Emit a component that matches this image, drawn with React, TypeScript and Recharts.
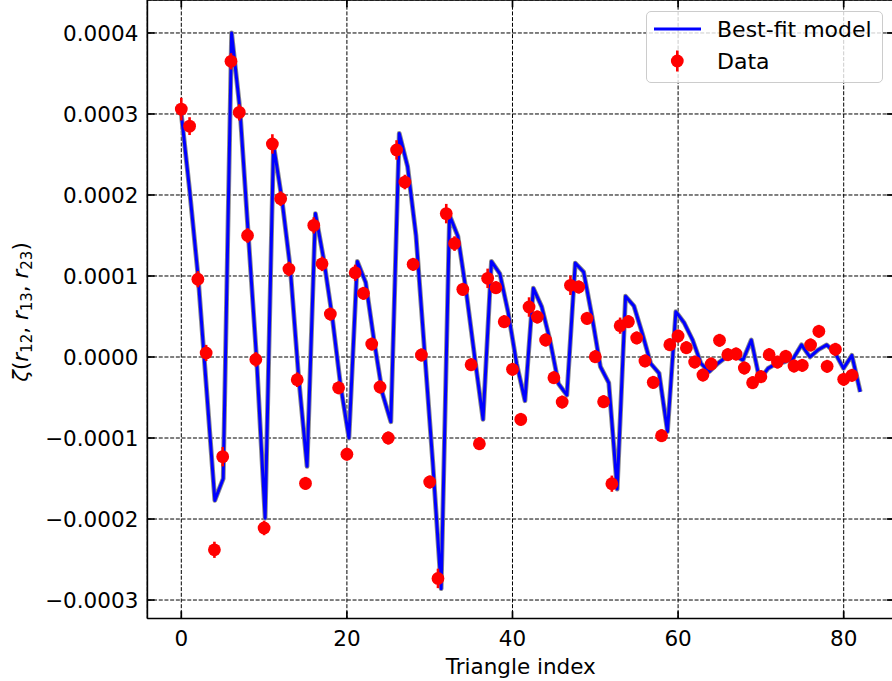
import React from 'react';
import {
  ComposedChart,
  Line,
  Scatter,
  XAxis,
  YAxis,
  CartesianGrid,
  ErrorBar,
  ReferenceLine,
  Label,
} from 'recharts';

// ---------------- data ----------------
// Measured correlation (data points, index 0..81)
const dataZeta: number[] = [
  3.06e-4, 2.85e-4, 0.96e-4, 0.05e-4, -2.38e-4, -1.23e-4, 3.65e-4, 3.02e-4, 1.5e-4, -0.03e-4,
  -2.11e-4, 2.63e-4, 1.955e-4, 1.086e-4, -0.28e-4, -1.56e-4, 1.625e-4, 1.15e-4, 0.53e-4, -0.38e-4,
  -1.2e-4, 1.04e-4, 0.786e-4, 0.16e-4, -0.37e-4, -1.0e-4, 2.556e-4, 2.16e-4, 1.144e-4, 0.025e-4,
  -1.543e-4, -2.733e-4, 1.77e-4, 1.4e-4, 0.835e-4, -0.095e-4, -1.07e-4, 0.971e-4, 0.856e-4, 0.436e-4,
  -0.152e-4, -0.77e-4, 0.617e-4, 0.494e-4, 0.21e-4, -0.255e-4, -0.556e-4, 0.885e-4, 0.864e-4, 0.477e-4,
  0.004e-4, -0.552e-4, -1.564e-4, 0.387e-4, 0.436e-4, 0.235e-4, -0.049e-4, -0.313e-4, -0.971e-4, 0.152e-4,
  0.259e-4, 0.115e-4, -0.062e-4, -0.222e-4, -0.086e-4, 0.206e-4, 0.029e-4, 0.037e-4, -0.136e-4, -0.317e-4,
  -0.243e-4, 0.029e-4, -0.062e-4, 0.008e-4, -0.111e-4, -0.103e-4, 0.148e-4, 0.317e-4, -0.115e-4, 0.095e-4,
  -0.275e-4, -0.226e-4,
];

// 1-sigma errors on the data
const dataErr: number[] = [
  0.14e-4, 0.11e-4, 0.1e-4, 0.1e-4, 0.1e-4, 0.12e-4, 0.1e-4, 0.1e-4, 0.09e-4, 0.09e-4,
  0.09e-4, 0.12e-4, 0.09e-4, 0.09e-4, 0.09e-4, 0.08e-4, 0.1e-4, 0.09e-4, 0.08e-4, 0.08e-4,
  0.08e-4, 0.1e-4, 0.08e-4, 0.08e-4, 0.08e-4, 0.08e-4, 0.12e-4, 0.09e-4, 0.08e-4, 0.08e-4,
  0.08e-4, 0.12e-4, 0.12e-4, 0.09e-4, 0.08e-4, 0.08e-4, 0.08e-4, 0.12e-4, 0.08e-4, 0.08e-4,
  0.08e-4, 0.08e-4, 0.12e-4, 0.08e-4, 0.08e-4, 0.08e-4, 0.08e-4, 0.12e-4, 0.08e-4, 0.08e-4,
  0.08e-4, 0.08e-4, 0.1e-4, 0.1e-4, 0.08e-4, 0.08e-4, 0.08e-4, 0.08e-4, 0.08e-4, 0.08e-4,
  0.08e-4, 0.08e-4, 0.08e-4, 0.08e-4, 0.08e-4, 0.08e-4, 0.08e-4, 0.08e-4, 0.08e-4, 0.08e-4,
  0.08e-4, 0.08e-4, 0.08e-4, 0.08e-4, 0.08e-4, 0.08e-4, 0.08e-4, 0.08e-4, 0.08e-4, 0.08e-4,
  0.08e-4, 0.08e-4,
];

// Best-fit model (82 samples spread over 0..82)
const modelZeta: number[] = [
  3.0e-4, 2.05e-4, 1.0e-4, -0.38e-4, -1.77e-4, -1.5e-4, 4.0e-4, 3.05e-4, 1.5e-4, -0.05e-4,
  -1.99e-4, 2.62e-4, 1.95e-4, 1.1e-4, -0.25e-4, -1.35e-4, 1.77e-4, 1.2e-4, 0.5e-4, -0.35e-4,
  -1.0e-4, 1.18e-4, 0.92e-4, 0.2e-4, -0.45e-4, -0.8e-4, 2.76e-4, 2.35e-4, 1.5e-4, 0.1e-4,
  -1.3e-4, -2.86e-4, 1.75e-4, 1.49e-4, 0.8e-4, 0.0, -0.77e-4, 1.18e-4, 1.03e-4, 0.55e-4,
  -0.08e-4, -0.54e-4, 0.85e-4, 0.62e-4, 0.2e-4, -0.33e-4, -0.47e-4, 1.16e-4, 1.05e-4, 0.5e-4,
  -0.12e-4, -0.32e-4, -1.63e-4, 0.75e-4, 0.63e-4, 0.29e-4, -0.08e-4, -0.2e-4, -0.92e-4, 0.56e-4,
  0.42e-4, 0.21e-4, -0.08e-4, -0.18e-4, -0.08e-4, 0.0, 0.02e-4, -0.04e-4, 0.21e-4, -0.28e-4,
  -0.14e-4, -0.08e-4, -0.06e-4, -0.02e-4, 0.15e-4, 0.0, 0.09e-4, 0.15e-4, 0.05e-4, -0.14e-4,
  0.02e-4, -0.43e-4,
];
const modelSpan = 82;

const xTicks = [0, 20, 40, 60, 80];
const yTicks = [-0.0003, -0.0002, -0.0001, 0, 0.0001, 0.0002, 0.0003, 0.0004];

const xLabel = 'Triangle index';
const legendModel = 'Best-fit model';
const legendData = 'Data';

// ---------------- layout ----------------
const W = 900;
const H = 681;
const PLOT_LEFT = 147.35;
const PLOT_RIGHT = 894.2;
const PLOT_TOP = 0;
const PLOT_BOTTOM = 618.5;
const X_DOMAIN: [number, number] = [-4.1, 86.1];
const Y_DOMAIN: [number, number] = [-3.228e-4, 4.407e-4];
const FONT = 'DejaVu Sans, Verdana, sans-serif';
const FS = 21.5;

const points = dataZeta.map((y, i) => ({ x: i, y, err: dataErr[i] }));
const modelPts = modelZeta.map((y, j) => ({ x: (j * modelSpan) / (modelZeta.length - 1), y }));

const fmtY = (v: number) => {
  const s = Math.abs(v).toFixed(4);
  return v < -1e-12 ? '\u2212' + s : s;
};

const XTick = (p: any) => {
  const { x, payload } = p;
  return (
    <g>
      <line x1={x} x2={x} y1={PLOT_BOTTOM} y2={PLOT_BOTTOM - 7.3} stroke="#000" strokeWidth={1.7} />
      <line x1={x} x2={x} y1={PLOT_TOP} y2={PLOT_TOP + 7.3} stroke="#000" strokeWidth={1.7} />
      <text x={x} y={PLOT_BOTTOM + 27.2} textAnchor="middle" fontSize={FS} fontFamily={FONT} fill="#000">
        {payload.value}
      </text>
    </g>
  );
};

const YTick = (p: any) => {
  const { y, payload } = p;
  return (
    <g>
      <line x1={PLOT_LEFT} x2={PLOT_LEFT + 7.3} y1={y} y2={y} stroke="#000" strokeWidth={1.7} />
      <line x1={PLOT_RIGHT - 7.3} x2={PLOT_RIGHT} y1={y} y2={y} stroke="#000" strokeWidth={1.7} />
      <text x={PLOT_LEFT - 9} y={y + 8} textAnchor="end" fontSize={FS} fontFamily={FONT} fill="#000">
        {fmtY(payload.value)}
      </text>
    </g>
  );
};

const RedDot = (p: any) => {
  if (p.cx == null || p.cy == null) return <g />;
  return <circle cx={p.cx} cy={p.cy} r={6.4} fill="#ff0000" />;
};

const YLabel = () => (
  <text
    transform="translate(28,312) rotate(-90)"
    textAnchor="middle"
    fontSize={FS}
    fontFamily={FONT}
    fill="#000"
  >
    <tspan fontStyle="italic">ζ</tspan>
    <tspan>(</tspan>
    <tspan fontStyle="italic">r</tspan>
    <tspan fontSize={15} dy={4}>12</tspan>
    <tspan dy={-4}>, </tspan>
    <tspan fontStyle="italic">r</tspan>
    <tspan fontSize={15} dy={4}>13</tspan>
    <tspan dy={-4}>, </tspan>
    <tspan fontStyle="italic">r</tspan>
    <tspan fontSize={15} dy={4}>23</tspan>
    <tspan dy={-4}>)</tspan>
  </text>
);

const LegendBox = () => (
  <div
    style={{
      position: 'absolute',
      left: 646,
      top: 11,
      width: 237,
      height: 72,
      boxSizing: 'border-box',
      border: '1px solid #cccccc',
      borderRadius: 5,
      background: 'rgba(255,255,255,0.8)',
    }}
  >
    <svg width={237} height={72} style={{ position: 'absolute', left: -1, top: -1 }}>
      <line x1={8} x2={55} y1={18} y2={18} stroke="#0000ff" strokeWidth={3} />
      <text x={71} y={25.7} fontSize={22} fontFamily={FONT} fill="#000">
        {legendModel}
      </text>
      <line x1={31.3} x2={31.3} y1={39.5} y2={60.5} stroke="#ff0000" strokeWidth={2.6} />
      <circle cx={31.3} cy={50} r={6.4} fill="#ff0000" />
      <text x={71} y={58.3} fontSize={22} fontFamily={FONT} fill="#000">
        {legendData}
      </text>
    </svg>
  </div>
);

export default function App() {
  return (
    <div
      style={{
        position: 'absolute',
        left: 0,
        top: 0,
        width: 892,
        height: 681,
        overflow: 'hidden',
        background: '#fff',
      }}
    >
      <ComposedChart
        width={W}
        height={H}
        margin={{ top: PLOT_TOP, right: W - PLOT_RIGHT, bottom: 0, left: 0 }}
      >
        <CartesianGrid stroke="#000" strokeDasharray="4 1.7" strokeWidth={1} />
        <XAxis
          type="number"
          dataKey="x"
          domain={X_DOMAIN}
          ticks={xTicks}
          interval={0}
          allowDataOverflow
          height={H - PLOT_BOTTOM}
          tickSize={0}
          tickMargin={0}
          tickLine={false}
          axisLine={{ stroke: '#000', strokeWidth: 1.7 }}
          tick={(p: any) => <XTick {...p} />}
        >
          <Label
            content={() => (
              <text x={(PLOT_LEFT + PLOT_RIGHT) / 2} y={673.5} textAnchor="middle" fontSize={FS} fontFamily={FONT} fill="#000">
                {xLabel}
              </text>
            )}
          />
        </XAxis>
        <YAxis
          type="number"
          dataKey="y"
          domain={Y_DOMAIN}
          ticks={yTicks}
          interval={0}
          allowDataOverflow
          width={PLOT_LEFT}
          tickSize={0}
          tickMargin={0}
          tickLine={false}
          axisLine={{ stroke: '#000', strokeWidth: 1.7 }}
          tick={(p: any) => <YTick {...p} />}
        >
          <Label content={() => <YLabel />} />
        </YAxis>
        <ReferenceLine y={Y_DOMAIN[1]} stroke="#000" strokeWidth={1.7} />
        <ReferenceLine x={X_DOMAIN[1]} stroke="#000" strokeWidth={1.7} />
        <Line
          data={modelPts}
          dataKey="y"
          type="linear"
          stroke="#8a8a8a"
          strokeWidth={4.8}
          strokeLinejoin="round"
          dot={false}
          activeDot={false}
          isAnimationActive={false}
          legendType="none"
        />
        <Line
          data={modelPts}
          dataKey="y"
          type="linear"
          stroke="#0000ff"
          strokeWidth={3}
          strokeLinejoin="round"
          dot={false}
          activeDot={false}
          isAnimationActive={false}
        />
        <Scatter data={points} dataKey="y" fill="#ff0000" shape={RedDot} isAnimationActive={false}>
          <ErrorBar dataKey="err" direction="y" width={0} stroke="#ff0000" strokeWidth={2.6} />
        </Scatter>
      </ComposedChart>
      <LegendBox />
    </div>
  );
}
